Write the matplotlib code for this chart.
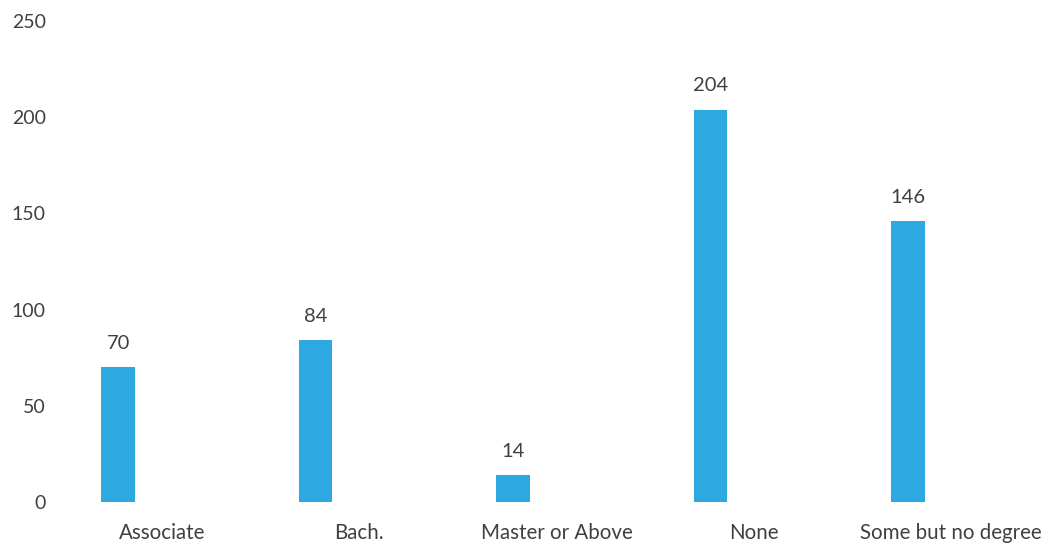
import numpy as np
import matplotlib.pyplot as plt

categories = ["Associate", "Bach.", "Master or Above", "None", "Some but no degree"]
counts = [70, 84, 14, 204, 146]
y_ticks = [0, 50, 100, 150, 200, 250]

bar_color = "#2EA8E1"
text_color = "#404040"

plt.rcParams["font.family"] = ["Lato", "DejaVu Sans"]

fig = plt.figure(figsize=(10.54, 5.5), dpi=100)
ax = fig.add_axes([57 / 1054, 48 / 550, (1050 - 57) / 1054, (502 - 21) / 550])

x = np.arange(len(categories))
ax.bar(x, counts, width=0.17, color=bar_color)

for xi, v in zip(x, counts):
    ax.annotate(str(v), (xi, v), xytext=(0, 11), textcoords="offset points",
                ha="center", va="bottom", fontsize=14.5, color=text_color)

ax.set_xlim(-0.31, 4.72)
ax.set_ylim(0, 250)
ax.set_yticks(y_ticks)
ax.set_yticklabels([str(t) for t in y_ticks])

# category labels sit a little to the right of each bar
ax.set_xticks(x + 0.22)
ax.set_xticklabels(categories)

ax.tick_params(axis="both", length=0, labelsize=14, labelcolor=text_color)
ax.tick_params(axis="x", pad=15, labelsize=14.8)
ax.tick_params(axis="y", pad=8)
for spine in ax.spines.values():
    spine.set_visible(False)

fig.savefig("out.png", dpi=100)
